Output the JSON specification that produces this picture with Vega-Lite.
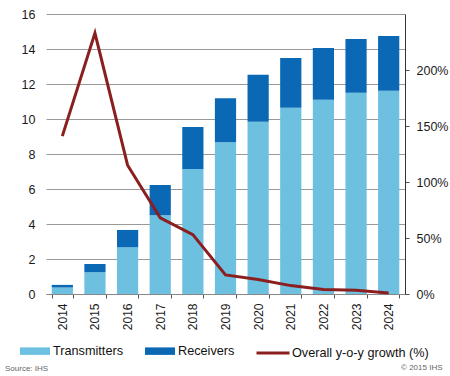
{
  "$schema": "https://vega.github.io/schema/vega-lite/v6.json",
  "width": 359,
  "height": 280,
  "autosize": {"type": "none"},
  "padding": {"left": 46, "top": 14, "right": 45, "bottom": 82},
  "background": "white",
  "config": {
    "view": {"stroke": null},
    "font": "Liberation Sans",
    "axis": {"labelFont": "Liberation Sans", "labelColor": "#1a1a1a", "titleFont": "Liberation Sans"},
    "legend": {"labelFont": "Liberation Sans"}
  },
  "title": {
    "text": "Source: IHS",
    "orient": "bottom",
    "anchor": "start",
    "frame": "group",
    "dx": -41,
    "offset": -6,
    "fontSize": 8,
    "fontWeight": "normal",
    "color": "#666"
  },
  "data": {
    "values": [
      {"year": "2014", "Transmitters": 0.37, "Receivers": 0.15, "growth": 1.41},
      {"year": "2015", "Transmitters": 1.24, "Receivers": 0.47, "growth": 2.33},
      {"year": "2016", "Transmitters": 2.67, "Receivers": 0.99, "growth": 1.15},
      {"year": "2017", "Transmitters": 4.5, "Receivers": 1.73, "growth": 0.68},
      {"year": "2018", "Transmitters": 7.14, "Receivers": 2.4, "growth": 0.53},
      {"year": "2019", "Transmitters": 8.67, "Receivers": 2.51, "growth": 0.17},
      {"year": "2020", "Transmitters": 9.85, "Receivers": 2.68, "growth": 0.13},
      {"year": "2021", "Transmitters": 10.65, "Receivers": 2.84, "growth": 0.075},
      {"year": "2022", "Transmitters": 11.1, "Receivers": 2.96, "growth": 0.04},
      {"year": "2023", "Transmitters": 11.5, "Receivers": 3.07, "growth": 0.033},
      {"year": "2024", "Transmitters": 11.62, "Receivers": 3.12, "growth": 0.01}
    ]
  },
  "layer": [
    {
      "transform": [{"fold": ["Transmitters", "Receivers"], "as": ["series", "value"]}],
      "mark": {"type": "bar"},
      "encoding": {
        "x": {
          "field": "year",
          "type": "ordinal",
          "scale": {"paddingInner": 0.35, "paddingOuter": 0.175},
          "axis": {
            "title": "© 2015 IHS",
            "titleFontSize": 8,
            "titleFontWeight": "normal",
            "titleColor": "#666",
            "titleAnchor": "end",
            "titleAlign": "right",
            "titleBaseline": "alphabetic",
            "titleX": 396,
            "titleY": 75,
            "labelAngle": -90,
            "labelFontSize": 12,
            "labelPadding": 5,
            "tickBand": "extent",
            "tickSize": 4,
            "tickColor": "#555",
            "domainColor": "#888",
            "grid": false
          }
        },
        "y": {
          "field": "value",
          "type": "quantitative",
          "stack": "zero",
          "scale": {"domain": [0, 16], "nice": false},
          "axis": {
            "title": null,
            "values": [0, 2, 4, 6, 8, 10, 12, 14, 16],
            "domain": false,
            "ticks": false,
            "grid": true,
            "gridColor": "#999",
            "gridWidth": 1,
            "labelFontSize": 12.5,
            "labelPadding": 11
          }
        },
        "color": {
          "field": "series",
          "type": "nominal",
          "scale": {"domain": ["Transmitters", "Receivers"], "range": ["#6DC0DF", "#0B68B5"]},
          "legend": {
            "title": null,
            "orient": "none",
            "direction": "horizontal",
            "legendX": -26,
            "legendY": 322,
            "padding": 0,
            "symbolType": "M-1,-0.25H1V0.25H-1Z",
            "symbolSize": 900,
            "symbolStrokeWidth": 0,
            "symbolOpacity": 1,
            "labelFontSize": 12.7,
            "labelColor": "#111",
            "labelOffset": 3,
            "columnPadding": 21
          }
        },
        "order": {"field": "series", "sort": "descending"}
      }
    },
    {
      "mark": {"type": "line", "strokeWidth": 3},
      "encoding": {
        "x": {"field": "year", "type": "ordinal"},
        "y": {
          "field": "growth",
          "type": "quantitative",
          "scale": {"domain": [0, 2.5], "nice": false},
          "axis": {
            "orient": "right",
            "title": null,
            "values": [0, 0.5, 1, 1.5, 2],
            "format": ".0%",
            "grid": false,
            "domain": true,
            "domainColor": "#333",
            "tickColor": "#555",
            "tickSize": 4,
            "labelPadding": 7,
            "labelFontSize": 12.5
          }
        },
        "stroke": {
          "datum": "Overall y-o-y growth (%)",
          "type": "nominal",
          "scale": {"range": ["#8B1E1E"]},
          "legend": {
            "title": null,
            "orient": "none",
            "legendX": 209,
            "legendY": 321,
            "padding": 0,
            "symbolType": "stroke",
            "symbolSize": 1089,
            "symbolStrokeWidth": 3,
            "labelFontSize": 12.7,
            "labelColor": "#111",
            "labelOffset": 1
          }
        }
      }
    }
  ],
  "resolve": {"scale": {"y": "independent"}}
}
